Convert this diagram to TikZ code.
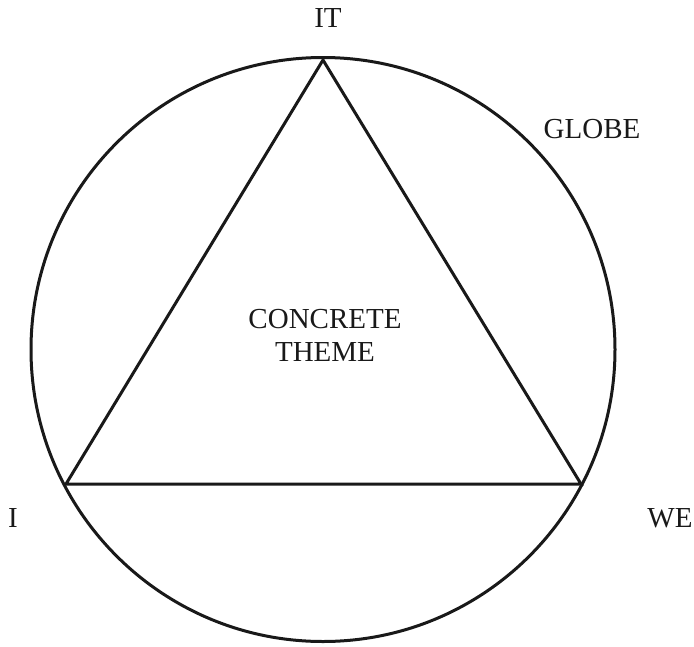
\documentclass[tikz,border=0pt]{standalone}
\usepackage{fontspec}
\setmainfont{Liberation Serif}
\begin{document}
\begin{tikzpicture}[x=1pt,y=-1pt,
  line/.style={line width=3pt, draw=black!90, line join=miter},
  lbl/.style={inner sep=0pt, font=\fontsize{29}{33}\selectfont, text=black!90}]
\useasboundingbox (0,0) rectangle (694,646);
\node[line, circle, minimum size=584pt, inner sep=0pt] (globe) at (323,349.5) {};
\coordinate (top) at (323,60);
\coordinate (left) at (66,484);
\coordinate (right) at (581,484);
\draw[line] (top) -- (right) -- (left) -- cycle;
\node[lbl, anchor=base] (it) at (328,27) {IT};
\node[lbl, anchor=base] (globelbl) at (592,138) {GLOBE};
\node[lbl, align=center] (theme) at (325,335) {CONCRETE\\THEME};
\node[lbl, anchor=base] (i) at (13,527) {I};
\node[lbl, anchor=base] (we) at (670,527) {WE};
\end{tikzpicture}
\end{document}
